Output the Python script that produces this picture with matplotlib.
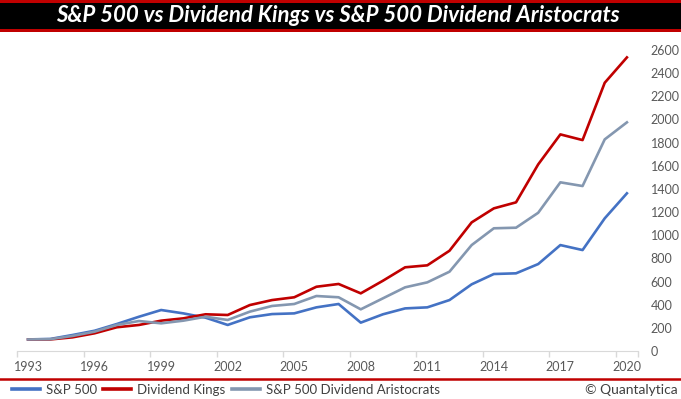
import matplotlib.pyplot as plt
from matplotlib.patches import Rectangle
from matplotlib.lines import Line2D

years = list(range(1993, 2021))

sp500 = [100, 104, 138, 175, 233, 296, 354, 325, 288, 225, 291, 319, 325, 377,
         406, 245, 317, 368, 377, 440, 576, 665, 671, 751, 915, 872, 1146, 1362]
div_kings = [100, 100, 118, 153, 205, 225, 262, 282, 317, 311, 397, 440, 464, 555,
             579, 498, 607, 723, 740, 866, 1111, 1232, 1284, 1612, 1871, 1822, 2317, 2536]
aristocrats = [100, 102, 130, 167, 225, 259, 239, 262, 296, 268, 340, 389, 406, 475,
               464, 360, 455, 550, 593, 685, 915, 1060, 1065, 1194, 1457, 1425, 1828, 1975]

label_years = years[::3]
y_ticks = list(range(0, 2601, 200))

plt.rcParams['font.family'] = ['Lato', 'DejaVu Sans']

W, H = 681, 399
fig = plt.figure(figsize=(W / 100, H / 100), dpi=100)

def fx(px):
    return px / W

def fy(py):
    return 1 - py / H

# title bar
fig.add_artist(Rectangle((0, fy(32)), 1, fy(0) - fy(32), transform=fig.transFigure,
                         facecolor='#C00000', edgecolor='none'))
fig.add_artist(Rectangle((0, fy(29)), 1, fy(3) - fy(29), transform=fig.transFigure,
                         facecolor='#000000', edgecolor='none'))
fig.text(fx(338), fy(16), 'S&P 500 vs Dividend Kings vs S&P 500 Dividend Aristocrats',
         color='white', fontsize=16, fontweight='bold', fontstyle='italic',
         ha='center', va='center')

ax = fig.add_axes([fx(17), fy(351), fx(638) - fx(17), fy(50) - fy(351)])
ax.plot(years, sp500, color='#4472C4', lw=1.9, label='S&P 500', solid_joinstyle='round')
ax.plot(years, div_kings, color='#C00000', lw=1.9, label='Dividend Kings', solid_joinstyle='round')
ax.plot(years, aristocrats, color='#8497B0', lw=1.9, label='S&P 500 Dividend Aristocrats',
        solid_joinstyle='round')

ax.set_xlim(years[0] - 0.5, years[-1] + 0.5)
ax.set_ylim(0, 2600)
ax.set_xticks(label_years)
ax.set_xticks([y - 0.5 for y in label_years] + [years[-1] + 0.5], minor=True)
ax.set_yticks(y_ticks)
ax.yaxis.tick_right()
ax.tick_params(axis='x', which='major', length=0, pad=7, labelsize=9, labelcolor='#595959')
ax.tick_params(axis='x', which='minor', length=4, color='#D9D9D9', width=1)
ax.tick_params(axis='y', length=0, pad=9, labelsize=9, labelcolor='#595959')
for lbl in ax.get_yticklabels():
    lbl.set_horizontalalignment('left')
for s in ['top', 'left', 'right']:
    ax.spines[s].set_visible(False)
ax.spines['bottom'].set_color('#D9D9D9')

# separator line
fig.add_artist(Line2D([0, 1], [fy(379), fy(379)], transform=fig.transFigure,
                      color='#C00000', lw=1.8))

handles, labels = ax.get_legend_handles_labels()
leg = fig.legend(handles, labels, loc='center left', bbox_to_anchor=(fx(12), fy(390)),
                 ncol=3, frameon=False, fontsize=9.5, handlelength=2.1, handletextpad=0.45,
                 columnspacing=0.5, borderaxespad=0, borderpad=0)
for t in leg.get_texts():
    t.set_color('#404040')
for h in leg.legend_handles:
    h.set_linewidth(2.6)

fig.text(fx(678), fy(390), '© Quantalytica', fontsize=10, color='#404040',
         ha='right', va='center')

fig.savefig('out.png', dpi=100)
